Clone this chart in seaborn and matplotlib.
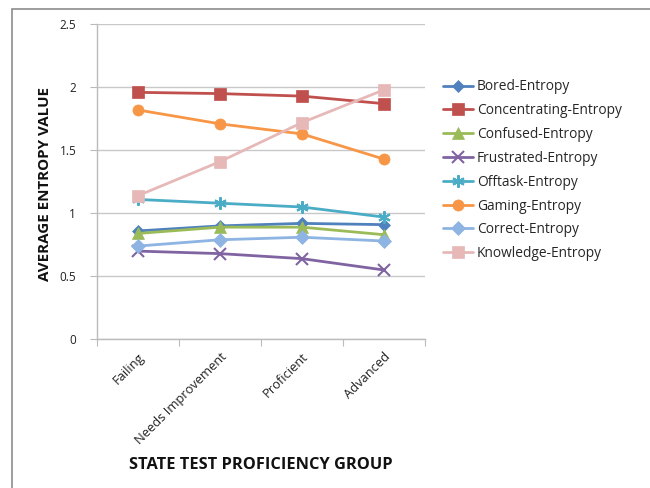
import matplotlib
matplotlib.use("Agg")
import matplotlib.pyplot as plt
import seaborn as sns
import pandas as pd
from matplotlib.patches import Rectangle

categories = ["Failing", "Needs Improvement", "Proficient", "Advanced"]
series_names = ["Bored-Entropy", "Concentrating-Entropy", "Confused-Entropy",
                "Frustrated-Entropy", "Offtask-Entropy", "Gaming-Entropy",
                "Correct-Entropy", "Knowledge-Entropy"]
bored = [0.86, 0.90, 0.92, 0.91]
concentrating = [1.96, 1.95, 1.93, 1.87]
confused = [0.84, 0.89, 0.89, 0.83]
frustrated = [0.70, 0.68, 0.64, 0.55]
offtask = [1.11, 1.08, 1.05, 0.97]
gaming = [1.82, 1.71, 1.63, 1.43]
correct = [0.74, 0.79, 0.81, 0.78]
knowledge = [1.14, 1.41, 1.72, 1.98]
y_ticks = [0, 0.5, 1, 1.5, 2, 2.5]
y_tick_labels = ["0", "0.5", "1", "1.5", "2", "2.5"]

values = [bored, concentrating, confused, frustrated, offtask, gaming, correct, knowledge]
colors = ["#4F81BD", "#C0504D", "#9BBB59", "#8064A2", "#4BACC6", "#F79646", "#8DB4E2", "#E6B9B8"]
markers = ["D", "s", "^", "x", (6, 2, 0), "o", "D", "s"]
msizes = [6, 8, 8, 8, 9, 8, 7, 8]

sns.set_style("white")
plt.rcParams["font.family"] = ["Open Sans", "DejaVu Sans"]

fig = plt.figure(figsize=(6.5, 4.88), dpi=100)
ax = fig.add_axes([97 / 650, 1 - 339.3 / 488, 328 / 650, 315 / 488])

for name, vals, c, m, ms in zip(series_names, values, colors, markers, msizes):
    df = pd.DataFrame({"group": categories, "value": vals})
    sns.lineplot(data=df, x="group", y="value", ax=ax, color=c, marker=m,
                 markersize=ms, linewidth=2, markeredgecolor=c,
                 markeredgewidth=1.5 if m in ("x", (6, 2, 0)) else 0.5,
                 label=name, sort=False)

ax.set_xlim(-0.5, 3.5)
ax.set_ylim(0, 2.5)
ax.set_yticks(y_ticks)
ax.set_yticklabels(y_tick_labels, fontsize=8.5, color="#222222")
ax.yaxis.grid(True, color="#C8C8C8", linewidth=1)
ax.set_axisbelow(True)

ax.set_xticks([-0.5, 0.5, 1.5, 2.5, 3.5])
ax.set_xticklabels([])
ax.set_xticks(range(len(categories)), minor=True)
ax.set_xticklabels(categories, minor=True, rotation=45, ha="right",
                   rotation_mode="anchor", fontsize=9.3, color="#222222")
ax.tick_params(axis="x", which="major", length=5, color="#BBBBBB", direction="out", bottom=True)
ax.tick_params(axis="x", which="minor", length=0, pad=8)
ax.tick_params(axis="y", length=5, color="#BBBBBB", direction="out", left=True, pad=10)

for s in ["top", "right"]:
    ax.spines[s].set_visible(False)
for s in ["left", "bottom"]:
    ax.spines[s].set_color("#BBBBBB")
    ax.spines[s].set_linewidth(1)

ax.set_xlabel("")
ax.set_ylabel("")
fig.text(45 / 650, 1 - 184 / 488, "AVERAGE ENTROPY VALUE", rotation=90, ha="center",
         va="center", fontsize=10.9, fontweight="bold", color="#111111")
fig.text(261 / 650, 1 - 465 / 488, "STATE TEST PROFICIENCY GROUP", ha="center",
         va="center", fontsize=11.8, fontweight="bold", color="#111111")

ax.legend(loc="upper left", bbox_to_anchor=(437 / 650, 1 - 74 / 488),
          bbox_transform=fig.transFigure, frameon=False, fontsize=9.9,
          handlelength=2.2, labelspacing=0.64, handletextpad=0.3, borderaxespad=0)

fig.patches.append(Rectangle((12 / 650, -0.05), 1.2, 1 - 9 / 488 + 0.05,
                             transform=fig.transFigure, fill=False,
                             edgecolor="#8C8C8C", linewidth=1.2))

fig.savefig("out.png", dpi=100)
